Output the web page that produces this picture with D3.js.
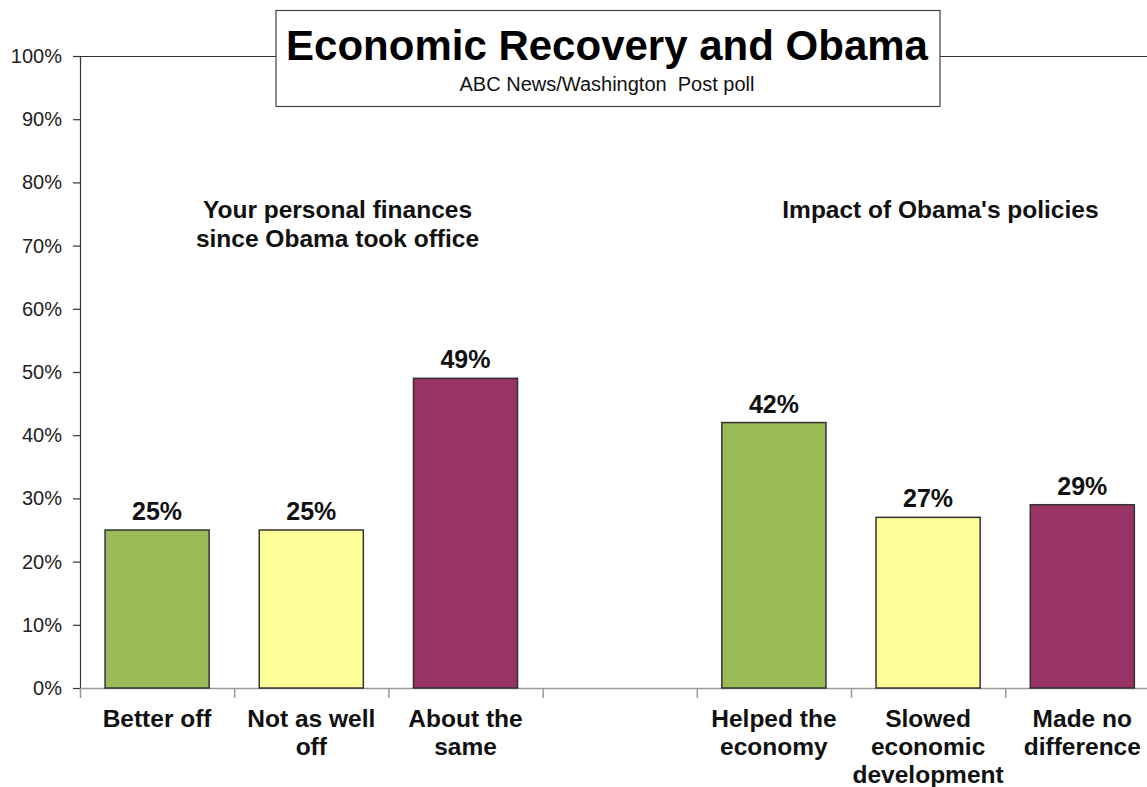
<!DOCTYPE html>
<html><head><meta charset="utf-8">
<script src="https://cdn.jsdelivr.net/npm/d3@7"></script>
<style>body{margin:0;background:#fff;}svg{display:block;font-family:"Liberation Sans",Arial,sans-serif;}</style>
</head><body>
<svg id="c" width="1147" height="787"></svg>
<script>
const categories = ["Better off","Not as well off","About the same","","Helped the economy","Slowed economic development","Made no difference"];
const labelLines = [["Better off"],["Not as well","off"],["About the","same"],[],["Helped the","economy"],["Slowed","economic","development"],["Made no","difference"]];
const values = [25,25,49,null,42,27,29];
const colors = ["#9BBB59","#FFFF99","#993366",null,"#9BBB59","#FFFF99","#993366"];
const yTicks = [0,10,20,30,40,50,60,70,80,90,100];
const groupTitles = [["Your personal finances","since Obama took office"],["Impact of Obama's policies"]];
const title = "Economic Recovery and Obama";
const subtitle = "ABC News/Washington  Post poll";

const svg = d3.select("#c");
const pLeft = 80, pTop = 56, pBottom = 688, slot = 154.2;
const pRight = pLeft + slot*categories.length;
const x = d3.scaleBand().domain(d3.range(categories.length)).range([pLeft,pRight]).paddingInner(0.325).paddingOuter(0.1625);
const y = d3.scaleLinear().domain([0,100]).range([pBottom,pTop]);
const xb = d3.scaleLinear().domain([0,categories.length]).range([pLeft,pRight]);

// top border of plot area
svg.append("line").attr("x1",pLeft).attr("x2",pRight).attr("y1",pTop+0.5).attr("y2",pTop+0.5).attr("stroke","#333").attr("stroke-width",1.2);

// y axis
const ya = svg.append("g").attr("transform",`translate(${pLeft},0)`)
  .call(d3.axisLeft(y).tickValues(yTicks).tickFormat(d=>d+"%").tickSize(7).tickPadding(11));
ya.select(".domain").attr("stroke","#333").attr("stroke-width",1.2);
ya.selectAll(".tick line").attr("stroke","#333").attr("stroke-width",1.2);
ya.selectAll(".tick text").attr("font-size",20).attr("fill","#222").style("font-family","Liberation Sans, Arial, sans-serif");

// x axis
const xa = svg.append("g").attr("transform",`translate(0,${pBottom})`)
  .call(d3.axisBottom(xb).tickValues(d3.range(categories.length+1)).tickFormat("").tickSize(10).tickSizeOuter(0));
xa.select(".domain").attr("stroke","#999").attr("stroke-width",1.5);
xa.selectAll(".tick line").attr("stroke","#999").attr("stroke-width",1.5);

// bars
const data = values.map((v,i)=>({v,i})).filter(d=>d.v!=null);
svg.selectAll("rect.bar").data(data).enter().append("rect")
  .attr("x",d=>x(d.i)).attr("width",x.bandwidth())
  .attr("y",d=>y(d.v)).attr("height",d=>pBottom-y(d.v))
  .attr("fill",d=>colors[d.i]).attr("stroke","#333").attr("stroke-width",1.5);

// value labels
svg.selectAll("text.val").data(data).enter().append("text")
  .attr("x",d=>x(d.i)+x.bandwidth()/2).attr("y",d=>y(d.v)-10)
  .attr("text-anchor","middle").attr("font-size",25).attr("font-weight","bold").attr("fill","#111")
  .text(d=>d.v+"%");

// category labels
labelLines.forEach((lines,i)=>{
  lines.forEach((l,j)=>{
    svg.append("text").attr("x",x(i)+x.bandwidth()/2).attr("y",727+j*28)
      .attr("text-anchor","middle").attr("font-size",24.5).attr("font-weight","bold").attr("fill","#111").text(l);
  });
});

// group titles
const groupAnchor = [1.67, 5.58];
groupTitles.forEach((lines,gi)=>{
  const cx = xb(groupAnchor[gi]);
  lines.forEach((l,j)=>{
    svg.append("text").attr("x",cx).attr("y",218+j*29).attr("text-anchor","middle")
      .attr("font-size",24.5).attr("font-weight","bold").attr("fill","#111").text(l);
  });
});

// title box
svg.append("rect").attr("x",276).attr("y",10.5).attr("width",664).attr("height",96).attr("fill","#fff").attr("stroke","#444").attr("stroke-width",1.2);
svg.append("text").attr("x",607).attr("y",60).attr("text-anchor","middle").attr("font-size",42).attr("font-weight","bold").attr("fill","#000").text(title);
svg.append("text").attr("x",607).attr("y",91).attr("text-anchor","middle").attr("font-size",20).attr("fill","#111").style("white-space","pre").text(subtitle);
</script>
</body></html>
